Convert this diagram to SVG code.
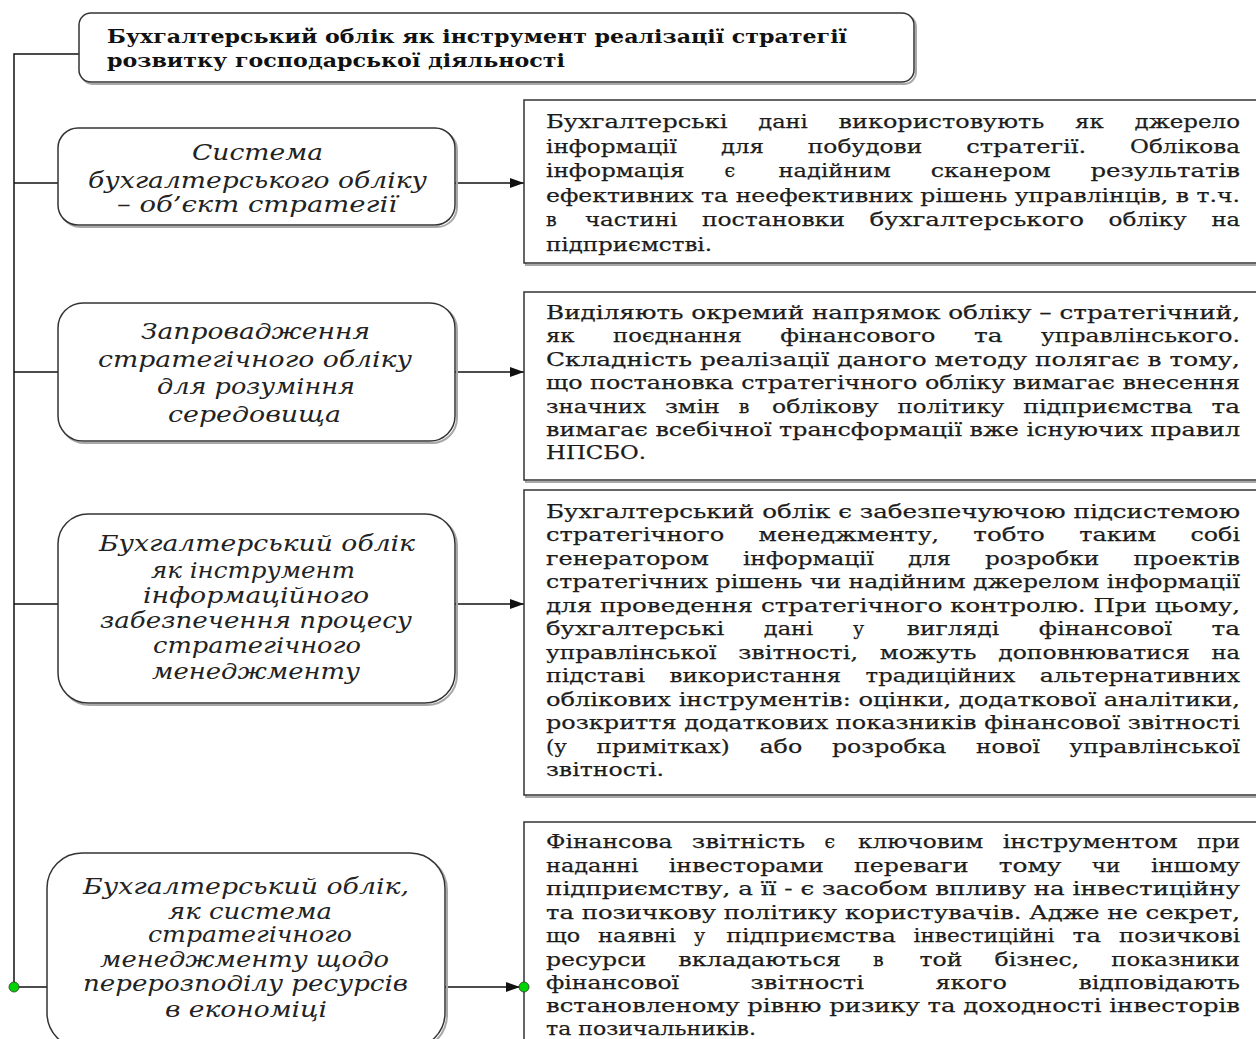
<svg xmlns="http://www.w3.org/2000/svg" width="1256" height="1039" viewBox="0 0 1256 1039">
<style>
.bx{fill:#fff;stroke:#333;stroke-width:1.5}
.sh{fill:none;stroke:#a8a8a8;stroke-width:2}
.rt{font-family:"DejaVu Serif","Liberation Serif",serif;font-size:19px;fill:#1c1c1c;stroke:#1c1c1c;stroke-width:0.25}
.lt{font-family:"DejaVu Serif","Liberation Serif",serif;font-style:italic;font-size:22px;fill:#222}
.tt{font-family:"DejaVu Serif","Liberation Serif",serif;font-weight:bold;font-size:19px;fill:#111}
.cn{fill:none;stroke:#111;stroke-width:1.5}
.dot{fill:#00d400;stroke:#333;stroke-width:0.8}
</style>
<defs>
<marker id="arr" viewBox="0 0 14 10" refX="14" refY="5" markerWidth="14" markerHeight="10" markerUnits="userSpaceOnUse" orient="auto"><path d="M0,0 L14,5 L0,10 z" fill="#111"/></marker>
</defs>
<rect width="1256" height="1039" fill="#fff"/>

<g id="connectors">
<path class="cn" d="M79,54 H14 V987"/>
<line class="cn" x1="14" y1="183" x2="58" y2="183"/>
<line class="cn" x1="455" y1="183" x2="524" y2="183" marker-end="url(#arr)"/>
<line class="cn" x1="14" y1="372" x2="58" y2="372"/>
<line class="cn" x1="455" y1="372" x2="524" y2="372" marker-end="url(#arr)"/>
<line class="cn" x1="14" y1="604" x2="58" y2="604"/>
<line class="cn" x1="455" y1="604" x2="524" y2="604" marker-end="url(#arr)"/>
<line class="cn" x1="14" y1="987" x2="47" y2="987"/>
<line class="cn" x1="445" y1="987" x2="520" y2="987" marker-end="url(#arr)"/>
</g>

<g id="title">
<rect class="sh" x="81" y="15" width="835" height="69" rx="12"/>
<rect class="bx" x="79" y="13" width="835" height="69" rx="12"/>
<text class="tt" x="107" y="43" textLength="740" lengthAdjust="spacingAndGlyphs">Бухгалтерський облік як інструмент реалізації стратегії</text>
<text class="tt" x="107" y="67" textLength="458" lengthAdjust="spacingAndGlyphs">розвитку господарської діяльності</text>
</g>

<g id="left1">
<rect class="sh" x="60" y="130" width="397" height="97" rx="20"/>
<rect class="bx" x="58" y="128" width="397" height="97" rx="20"/>
<text class="lt" x="192" y="160" textLength="131" lengthAdjust="spacingAndGlyphs">Система</text>
<text class="lt" x="88" y="188" textLength="339" lengthAdjust="spacingAndGlyphs">бухгалтерського обліку</text>
<text class="lt" x="117" y="212" textLength="280" lengthAdjust="spacingAndGlyphs">– об’єкт стратегії</text>
</g>

<g id="left2">
<rect class="sh" x="60" y="305" width="397" height="138" rx="25"/>
<rect class="bx" x="58" y="303" width="397" height="138" rx="25"/>
<text class="lt" x="141" y="339" textLength="229" lengthAdjust="spacingAndGlyphs">Запровадження</text>
<text class="lt" x="98" y="367" textLength="314" lengthAdjust="spacingAndGlyphs">стратегічного обліку</text>
<text class="lt" x="157" y="394" textLength="198" lengthAdjust="spacingAndGlyphs">для розуміння</text>
<text class="lt" x="168" y="422" textLength="173" lengthAdjust="spacingAndGlyphs">середовища</text>
</g>

<g id="left3">
<rect class="sh" x="60" y="516" width="397" height="189" rx="30"/>
<rect class="bx" x="58" y="514" width="397" height="189" rx="30"/>
<text class="lt" x="99" y="551" textLength="316" lengthAdjust="spacingAndGlyphs">Бухгалтерський облік</text>
<text class="lt" x="151" y="578" textLength="204" lengthAdjust="spacingAndGlyphs">як інструмент</text>
<text class="lt" x="143" y="603" textLength="226" lengthAdjust="spacingAndGlyphs">інформаційного</text>
<text class="lt" x="100" y="628" textLength="312" lengthAdjust="spacingAndGlyphs">забезпечення процесу</text>
<text class="lt" x="153" y="653" textLength="208" lengthAdjust="spacingAndGlyphs">стратегічного</text>
<text class="lt" x="152" y="679" textLength="208" lengthAdjust="spacingAndGlyphs">менеджменту</text>
</g>

<g id="left4">
<rect class="sh" x="49" y="855" width="398" height="195" rx="35"/>
<rect class="bx" x="47" y="853" width="398" height="195" rx="35"/>
<text class="lt" x="83" y="894" textLength="326" lengthAdjust="spacingAndGlyphs">Бухгалтерський облік,</text>
<text class="lt" x="168" y="919" textLength="164" lengthAdjust="spacingAndGlyphs">як система</text>
<text class="lt" x="148" y="942" textLength="204" lengthAdjust="spacingAndGlyphs">стратегічного</text>
<text class="lt" x="100" y="967" textLength="289" lengthAdjust="spacingAndGlyphs">менеджменту щодо</text>
<text class="lt" x="83" y="991" textLength="325" lengthAdjust="spacingAndGlyphs">перерозподілу ресурсів</text>
<text class="lt" x="165" y="1017" textLength="162" lengthAdjust="spacingAndGlyphs">в економіці</text>
</g>

<g id="right1">
<rect class="sh" x="526" y="102" width="740" height="163"/>
<rect class="bx" x="524" y="100" width="740" height="163"/>
<text class="rt" x="546" y="128" textLength="181.5" lengthAdjust="spacingAndGlyphs">Бухгалтерські</text>
<text class="rt" x="758.3" y="128" textLength="49.5" lengthAdjust="spacingAndGlyphs">дані</text>
<text class="rt" x="838.6" y="128" textLength="205.7" lengthAdjust="spacingAndGlyphs">використовують</text>
<text class="rt" x="1075.1" y="128" textLength="28.6" lengthAdjust="spacingAndGlyphs">як</text>
<text class="rt" x="1134.5" y="128" textLength="105.5" lengthAdjust="spacingAndGlyphs">джерело</text>
<text class="rt" x="546" y="152.6" textLength="130.9" lengthAdjust="spacingAndGlyphs">інформації</text>
<text class="rt" x="720.9" y="152.6" textLength="42.9" lengthAdjust="spacingAndGlyphs">для</text>
<text class="rt" x="807.8" y="152.6" textLength="114.4" lengthAdjust="spacingAndGlyphs">побудови</text>
<text class="rt" x="966.2" y="152.6" textLength="119.9" lengthAdjust="spacingAndGlyphs">стратегії.</text>
<text class="rt" x="1130" y="152.6" textLength="110" lengthAdjust="spacingAndGlyphs">Облікова</text>
<text class="rt" x="546" y="177.2" textLength="138.6" lengthAdjust="spacingAndGlyphs">інформація</text>
<text class="rt" x="724.5" y="177.2">є</text>
<text class="rt" x="778.6" y="177.2" textLength="112.2" lengthAdjust="spacingAndGlyphs">надійним</text>
<text class="rt" x="930.7" y="177.2" textLength="119.9" lengthAdjust="spacingAndGlyphs">сканером</text>
<text class="rt" x="1090.4" y="177.2" textLength="149.6" lengthAdjust="spacingAndGlyphs">результатів</text>
<text class="rt" x="546" y="201.8" textLength="694" lengthAdjust="spacingAndGlyphs">ефективних та неефективних рішень управлінців, в т.ч.</text>
<text class="rt" x="546" y="226.4">в</text>
<text class="rt" x="584.9" y="226.4" textLength="92.4" lengthAdjust="spacingAndGlyphs">частині</text>
<text class="rt" x="701.9" y="226.4" textLength="143" lengthAdjust="spacingAndGlyphs">постановки</text>
<text class="rt" x="869.5" y="226.4" textLength="214.5" lengthAdjust="spacingAndGlyphs">бухгалтерського</text>
<text class="rt" x="1108.6" y="226.4" textLength="78.1" lengthAdjust="spacingAndGlyphs">обліку</text>
<text class="rt" x="1211.4" y="226.4" textLength="28.6" lengthAdjust="spacingAndGlyphs">на</text>
<text class="rt" x="546" y="251" textLength="166" lengthAdjust="spacingAndGlyphs">підприємстві.</text>
</g>

<g id="right2">
<rect class="sh" x="526" y="294" width="740" height="188"/>
<rect class="bx" x="524" y="292" width="740" height="188"/>
<text class="rt" x="546" y="319" textLength="694" lengthAdjust="spacingAndGlyphs">Виділяють окремий напрямок обліку – стратегічний,</text>
<text class="rt" x="546" y="342" textLength="28.6" lengthAdjust="spacingAndGlyphs">як</text>
<text class="rt" x="613.1" y="342" textLength="128.7" lengthAdjust="spacingAndGlyphs">поєднання</text>
<text class="rt" x="780.3" y="342" textLength="155.1" lengthAdjust="spacingAndGlyphs">фінансового</text>
<text class="rt" x="973.9" y="342" textLength="28.6" lengthAdjust="spacingAndGlyphs">та</text>
<text class="rt" x="1040.9" y="342" textLength="199.1" lengthAdjust="spacingAndGlyphs">управлінського.</text>
<text class="rt" x="546" y="365.5" textLength="694" lengthAdjust="spacingAndGlyphs">Складність реалізації даного методу полягає в тому,</text>
<text class="rt" x="546" y="388.5" textLength="694" lengthAdjust="spacingAndGlyphs">що постановка стратегічного обліку вимагає внесення</text>
<text class="rt" x="546" y="412.5" textLength="100" lengthAdjust="spacingAndGlyphs">значних</text>
<text class="rt" x="664.9" y="412.5" textLength="55" lengthAdjust="spacingAndGlyphs">змін</text>
<text class="rt" x="738.8" y="412.5">в</text>
<text class="rt" x="772" y="412.5" textLength="106.7" lengthAdjust="spacingAndGlyphs">облікову</text>
<text class="rt" x="897.6" y="412.5" textLength="106.7" lengthAdjust="spacingAndGlyphs">політику</text>
<text class="rt" x="1023.2" y="412.5" textLength="169.4" lengthAdjust="spacingAndGlyphs">підприємства</text>
<text class="rt" x="1211.4" y="412.5" textLength="28.6" lengthAdjust="spacingAndGlyphs">та</text>
<text class="rt" x="546" y="435.5" textLength="694" lengthAdjust="spacingAndGlyphs">вимагає всебічної трансформації вже існуючих правил</text>
<text class="rt" x="546" y="459" textLength="100" lengthAdjust="spacingAndGlyphs">НПСБО.</text>
</g>

<g id="right3">
<rect class="sh" x="526" y="492" width="740" height="305"/>
<rect class="bx" x="524" y="490" width="740" height="305"/>
<text class="rt" x="546" y="518" textLength="694" lengthAdjust="spacingAndGlyphs">Бухгалтерський облік є забезпечуючою підсистемою</text>
<text class="rt" x="546" y="541" textLength="178.2" lengthAdjust="spacingAndGlyphs">стратегічного</text>
<text class="rt" x="758.6" y="541" textLength="180.4" lengthAdjust="spacingAndGlyphs">менеджменту,</text>
<text class="rt" x="973.3" y="541" textLength="71.5" lengthAdjust="spacingAndGlyphs">тобто</text>
<text class="rt" x="1079.2" y="541" textLength="77" lengthAdjust="spacingAndGlyphs">таким</text>
<text class="rt" x="1190.5" y="541" textLength="49.5" lengthAdjust="spacingAndGlyphs">собі</text>
<text class="rt" x="546" y="565" textLength="162.8" lengthAdjust="spacingAndGlyphs">генератором</text>
<text class="rt" x="742.9" y="565" textLength="130.9" lengthAdjust="spacingAndGlyphs">інформації</text>
<text class="rt" x="907.9" y="565" textLength="42.9" lengthAdjust="spacingAndGlyphs">для</text>
<text class="rt" x="984.9" y="565" textLength="114.4" lengthAdjust="spacingAndGlyphs">розробки</text>
<text class="rt" x="1133.4" y="565" textLength="106.6" lengthAdjust="spacingAndGlyphs">проектів</text>
<text class="rt" x="546" y="588" textLength="694" lengthAdjust="spacingAndGlyphs">стратегічних рішень чи надійним джерелом інформації</text>
<text class="rt" x="546" y="612" textLength="694" lengthAdjust="spacingAndGlyphs">для проведення стратегічного контролю. При цьому,</text>
<text class="rt" x="546" y="635" textLength="178.2" lengthAdjust="spacingAndGlyphs">бухгалтерські</text>
<text class="rt" x="763.8" y="635" textLength="49.5" lengthAdjust="spacingAndGlyphs">дані</text>
<text class="rt" x="852.9" y="635">у</text>
<text class="rt" x="906.8" y="635" textLength="92.4" lengthAdjust="spacingAndGlyphs">вигляді</text>
<text class="rt" x="1038.8" y="635" textLength="133.1" lengthAdjust="spacingAndGlyphs">фінансової</text>
<text class="rt" x="1211.4" y="635" textLength="28.6" lengthAdjust="spacingAndGlyphs">та</text>
<text class="rt" x="546" y="659" textLength="170.5" lengthAdjust="spacingAndGlyphs">управлінської</text>
<text class="rt" x="738.2" y="659" textLength="119.9" lengthAdjust="spacingAndGlyphs">звітності,</text>
<text class="rt" x="879.8" y="659" textLength="96.8" lengthAdjust="spacingAndGlyphs">можуть</text>
<text class="rt" x="998.3" y="659" textLength="191.4" lengthAdjust="spacingAndGlyphs">доповнюватися</text>
<text class="rt" x="1211.4" y="659" textLength="28.6" lengthAdjust="spacingAndGlyphs">на</text>
<text class="rt" x="546" y="682" textLength="99" lengthAdjust="spacingAndGlyphs">підставі</text>
<text class="rt" x="669.5" y="682" textLength="171.6" lengthAdjust="spacingAndGlyphs">використання</text>
<text class="rt" x="865.6" y="682" textLength="149.6" lengthAdjust="spacingAndGlyphs">традиційних</text>
<text class="rt" x="1039.8" y="682" textLength="200.2" lengthAdjust="spacingAndGlyphs">альтернативних</text>
<text class="rt" x="546" y="706" textLength="694" lengthAdjust="spacingAndGlyphs">облікових інструментів: оцінки, додаткової аналітики,</text>
<text class="rt" x="546" y="729" textLength="694" lengthAdjust="spacingAndGlyphs">розкриття додаткових показників фінансової звітності</text>
<text class="rt" x="546" y="753" textLength="20.9" lengthAdjust="spacingAndGlyphs">(у</text>
<text class="rt" x="596.6" y="753" textLength="133.1" lengthAdjust="spacingAndGlyphs">примітках)</text>
<text class="rt" x="759.4" y="753" textLength="42.9" lengthAdjust="spacingAndGlyphs">або</text>
<text class="rt" x="832" y="753" textLength="114.4" lengthAdjust="spacingAndGlyphs">розробка</text>
<text class="rt" x="976.1" y="753" textLength="63.8" lengthAdjust="spacingAndGlyphs">нової</text>
<text class="rt" x="1069.5" y="753" textLength="170.5" lengthAdjust="spacingAndGlyphs">управлінської</text>
<text class="rt" x="546" y="776" textLength="118" lengthAdjust="spacingAndGlyphs">звітності.</text>
</g>

<g id="right4">
<rect class="sh" x="526" y="824" width="740" height="230"/>
<rect class="bx" x="524" y="822" width="740" height="230"/>
<text class="rt" x="546" y="848" textLength="126.5" lengthAdjust="spacingAndGlyphs">Фінансова</text>
<text class="rt" x="691.8" y="848" textLength="113.3" lengthAdjust="spacingAndGlyphs">звітність</text>
<text class="rt" x="824.4" y="848">є</text>
<text class="rt" x="858" y="848" textLength="125.4" lengthAdjust="spacingAndGlyphs">ключовим</text>
<text class="rt" x="1002.7" y="848" textLength="174.9" lengthAdjust="spacingAndGlyphs">інструментом</text>
<text class="rt" x="1197.1" y="848" textLength="42.9" lengthAdjust="spacingAndGlyphs">при</text>
<text class="rt" x="546" y="872" textLength="92.4" lengthAdjust="spacingAndGlyphs">наданні</text>
<text class="rt" x="668.7" y="872" textLength="155.1" lengthAdjust="spacingAndGlyphs">інвесторами</text>
<text class="rt" x="854.1" y="872" textLength="114.4" lengthAdjust="spacingAndGlyphs">переваги</text>
<text class="rt" x="998.8" y="872" textLength="62.7" lengthAdjust="spacingAndGlyphs">тому</text>
<text class="rt" x="1091.8" y="872" textLength="28.6" lengthAdjust="spacingAndGlyphs">чи</text>
<text class="rt" x="1150.9" y="872" textLength="89.1" lengthAdjust="spacingAndGlyphs">іншому</text>
<text class="rt" x="546" y="895" textLength="694" lengthAdjust="spacingAndGlyphs">підприємству, а її - є засобом впливу на інвестиційну</text>
<text class="rt" x="546" y="918.5" textLength="694" lengthAdjust="spacingAndGlyphs">та позичкову політику користувачів. Адже не секрет,</text>
<text class="rt" x="546" y="942" textLength="34.1" lengthAdjust="spacingAndGlyphs">що</text>
<text class="rt" x="598" y="942" textLength="78.1" lengthAdjust="spacingAndGlyphs">наявні</text>
<text class="rt" x="694" y="942">у</text>
<text class="rt" x="726.3" y="942" textLength="169.4" lengthAdjust="spacingAndGlyphs">підприємства</text>
<text class="rt" x="913.6" y="942" textLength="140.8" lengthAdjust="spacingAndGlyphs">інвестиційні</text>
<text class="rt" x="1072.4" y="942" textLength="28.6" lengthAdjust="spacingAndGlyphs">та</text>
<text class="rt" x="1119" y="942" textLength="121" lengthAdjust="spacingAndGlyphs">позичкові</text>
<text class="rt" x="546" y="966" textLength="100.1" lengthAdjust="spacingAndGlyphs">ресурси</text>
<text class="rt" x="678.2" y="966" textLength="162.8" lengthAdjust="spacingAndGlyphs">вкладаються</text>
<text class="rt" x="873.1" y="966">в</text>
<text class="rt" x="919.5" y="966" textLength="42.9" lengthAdjust="spacingAndGlyphs">той</text>
<text class="rt" x="994.5" y="966" textLength="84.7" lengthAdjust="spacingAndGlyphs">бізнес,</text>
<text class="rt" x="1111.3" y="966" textLength="128.7" lengthAdjust="spacingAndGlyphs">показники</text>
<text class="rt" x="546" y="989" textLength="133.1" lengthAdjust="spacingAndGlyphs">фінансової</text>
<text class="rt" x="750.6" y="989" textLength="113.3" lengthAdjust="spacingAndGlyphs">звітності</text>
<text class="rt" x="935.4" y="989" textLength="71.5" lengthAdjust="spacingAndGlyphs">якого</text>
<text class="rt" x="1078.4" y="989" textLength="161.6" lengthAdjust="spacingAndGlyphs">відповідають</text>
<text class="rt" x="546" y="1012" textLength="694" lengthAdjust="spacingAndGlyphs">встановленому рівню ризику та доходності інвесторів</text>
<text class="rt" x="546" y="1035" textLength="210" lengthAdjust="spacingAndGlyphs">та позичальників.</text>
</g>

<g id="junctions">
<circle class="dot" cx="14" cy="987" r="5"/>
<circle class="dot" cx="524" cy="987" r="5"/>
</g>
</svg>
